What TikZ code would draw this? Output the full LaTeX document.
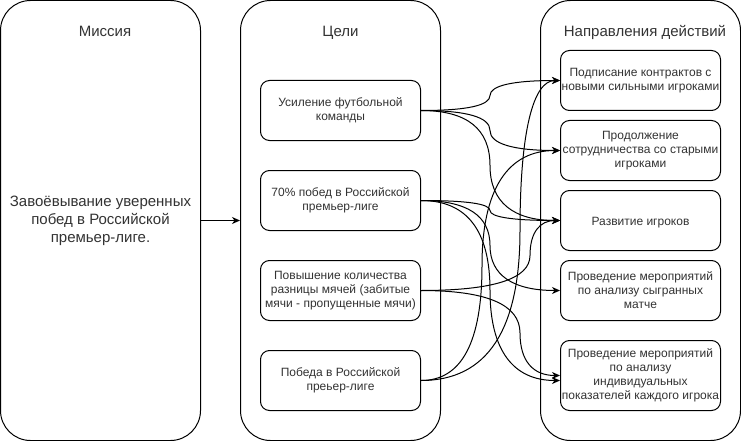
\documentclass[tikz,border=0pt]{standalone}
\usepackage{fontspec}
\setmainfont{Liberation Sans}
\usetikzlibrary{arrows.meta,calc}
\definecolor{txtc}{HTML}{333333}
\newcommand\dedge[4][0]{%
  \draw[conn] let \p1=(#2.east), \p2=($(#3.west)+(0,#1)$) in
    (\p1) .. controls ({\x1+2/3*(#4pt-\x1)},\y1) and (#4pt,{(\y1+\y2)/2+(\y1-\y2)/3}) .. (#4pt,{(\y1+\y2)/2})
          .. controls (#4pt,{(\y1+\y2)/2+(\y2-\y1)/3}) and ({\x2+2/3*(#4pt-\x2)},\y2) .. (\p2);}
\begin{document}
\begin{tikzpicture}[x=1pt,y=-1pt,
  lane/.style={draw=black, fill=white, line width=1pt, rounded corners=30pt,
    minimum width=200pt, minimum height=440pt, inner sep=0pt},
  box/.style={draw=black, fill=white, line width=1pt, rounded corners=9pt,
    minimum width=160pt, minimum height=60pt, inner xsep=0pt, inner ysep=0pt,
    align=center, text=txtc, font=\fontsize{12}{14}\selectfont,
    execute at begin node={\rule{0pt}{12.6pt}},
    execute at end node={\rule[-1.4pt]{0pt}{1.4pt}}},
  dbox/.style={box, minimum height=70pt},
  title/.style={text=txtc, font=\fontsize{15}{18}\selectfont, anchor=base, inner sep=0pt},
  bigtxt/.style={text=txtc, font=\fontsize{15}{18}\selectfont, align=center, inner sep=0pt,
    execute at begin node={\rule{0pt}{16.2pt}},
    execute at end node={\rule[-1.8pt]{0pt}{1.8pt}}},
  conn/.style={draw=black, line width=1pt, -{Stealth[length=8pt,width=7pt,inset=2.5pt]}}
]
\useasboundingbox (0,0) rectangle (741,441);
\fill[white] (0,0) rectangle (741,441);

% containers
\node[lane] (mis) at (100.5,220.5) {};
\node[lane] (gol) at (340.5,220.5) {};
\node[lane] (dir) at (640.5,220.5) {};

\node[title] (mist) at (105,36.5) {Миссия};
\node[title] (golt) at (340.5,36.5) {Цели};
\node[title] (dirt) at (645,36.5) {Направления действий};

\node[bigtxt] (mistxt) at (100.5,220.5) {Завоёвывание уверенных\\побед в Российской\\премьер-лиге.};

% goals
\node[box] (g1) at (340.5,110.5) {Усиление футбольной\\команды};
\node[box] (g2) at (340.5,200.5) {70\% побед в Российской\\премьер-лиге};
\node[box] (g3) at (340.5,290.5) {Повышение количества\\разницы мячей (забитые\\мячи - пропущенные мячи)};
\node[box] (g4) at (340.5,380.5) {Победа в Российской\\преьер-лиге};

% directions
\node[box] (a) at (640.5,80.5) {Подписание контрактов с\\новыми сильными игроками};
\node[box] (b) at (640.5,150.5) {Продолжение\\сотрудничества со старыми\\игроками};
\node[box] (c) at (640.5,220.5) {Развитие игроков};
\node[box] (d) at (640.5,290.5) {Проведение мероприятий\\по анализу сыгранных\\матче};
\node[dbox] (e) at (640.5,375.5) {Проведение мероприятий\\по анализу\\индивидуальных\\показателей каждого игрока};

% connectors
\draw[conn] (mis.east) -- (gol.west);
\dedge{g1}{a}{490}
\dedge{g1}{b}{490}
\dedge{g1}{c}{490}
\dedge{g2}{c}{490}
\dedge{g2}{d}{490}
\dedge[5]{g2}{e}{490}
\dedge{g3}{c}{530}
\dedge{g3}{e}{520}
\dedge{g4}{a}{520}
\dedge{g4}{b}{482}
\end{tikzpicture}
\end{document}
